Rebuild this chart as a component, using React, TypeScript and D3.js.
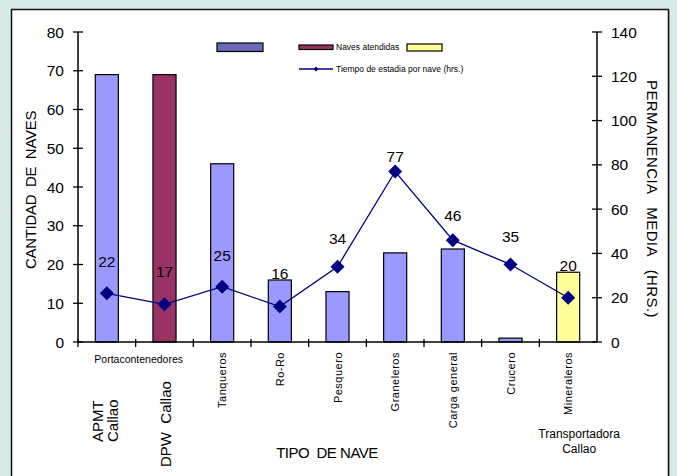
import * as React from 'react';
import { scaleBand, scaleLinear, line } from 'd3';

const categories = ['APMT Callao', 'DPW Callao', 'Tanqueros', 'Ro-Ro', 'Pesquero', 'Graneleros', 'Carga general', 'Crucero', 'Mineraleros'];
const navesAtendidas = [69, 69, 46, 16, 13, 23, 24, 1, 18];
const tiempoEstadia = [22, 17, 25, 16, 34, 77, 46, 35, 20];
const barSeries = [0, 1, 0, 0, 0, 0, 0, 0, 2];
const seriesColors = ['#9999ff', '#993366', '#ffff99'];
const legendColors = ['#6b6bbb', '#993366', '#ffff99'];
const leftTicks = [0, 10, 20, 30, 40, 50, 60, 70, 80];
const rightTicks = [0, 20, 40, 60, 80, 100, 120, 140];

const W = 677;
const H = 476;
const plot = { left: 78, right: 597, top: 32, bottom: 342 };
const font = '"Liberation Sans", Arial, sans-serif';

const x = scaleBand<string>()
    .domain(categories)
    .range([plot.left, plot.right])
    .paddingInner(0.6)
    .paddingOuter(0.3);
const step = x.step();

const yLeft = scaleLinear().domain([0, 80]).range([plot.bottom, plot.top]);
const yRight = scaleLinear().domain([0, 140]).range([plot.bottom, plot.top]);
// the value labels sit on their own (manually dragged) scale in the original
const yLabel = scaleLinear().domain([0, 140]).range([304, 35]);

const center = (c: string) => (x(c) as number) + x.bandwidth() / 2;

const linePath = line<number>()
    .x((_, i) => center(categories[i]))
    .y(d => yRight(d));

const Diamond = ({ cx, cy, r }: { cx: number; cy: number; r: number }) => (
    <path d={`M${cx},${cy - r}L${cx + r},${cy}L${cx},${cy + r}L${cx - r},${cy}Z`} fill="#000080" />
);

const pre = { whiteSpace: 'pre' as const };

export default function App() {
    const rotatedFrom = 2;
    const mineralCenter = center(categories[8]);
    return (
        <svg width={W} height={H} style={{ position: 'absolute', left: 0, top: 0 }} fontFamily={font}>
            <rect x={0} y={0} width={W} height={H} fill="#d9ece9" />
            <rect x={13} y={11} width={657} height={H} fill="#b8c4c2" />
            <rect x={11.5} y={9.5} width={657} height={H} fill="#ffffff" stroke="#111" strokeWidth={1.5} />

            {/* legend */}
            <rect x={217} y={43} width={46} height={8.5} fill={legendColors[0]} stroke="#000" strokeWidth={1.2} />
            <rect x={299} y={45} width={34} height={4.5} fill={legendColors[1]} stroke="#000" strokeWidth={1.2} />
            <text x={336} y={50} fontSize={8.5} fill="#000">Naves atendidas</text>
            <rect x={407} y={44} width={35} height={7} fill={legendColors[2]} stroke="#000" strokeWidth={1.2} />
            <line x1={299} x2={333} y1={69} y2={69} stroke="#000080" strokeWidth={1.3} />
            <Diamond cx={316} cy={69} r={2.5} />
            <text x={336} y={72} fontSize={8.5} fill="#000">Tiempo de estadia por nave (hrs.)</text>

            {/* bars */}
            {categories.map((c, i) => (
                <rect
                    key={c}
                    x={x(c)}
                    y={yLeft(navesAtendidas[i])}
                    width={x.bandwidth()}
                    height={yLeft(0) - yLeft(navesAtendidas[i])}
                    fill={seriesColors[barSeries[i]]}
                    stroke="#000"
                    strokeWidth={1.2}
                />
            ))}

            {/* axes */}
            <line x1={plot.left} x2={plot.left} y1={plot.top} y2={plot.bottom} stroke="#000" strokeWidth={1.5} />
            <line x1={plot.right} x2={plot.right} y1={plot.top} y2={plot.bottom} stroke="#000" strokeWidth={1.5} />
            <line x1={plot.left} x2={plot.right} y1={plot.bottom} y2={plot.bottom} stroke="#000" strokeWidth={1.5} />
            {leftTicks.map(t => (
                <g key={'l' + t}>
                    <line x1={plot.left - 5} x2={plot.left + 5} y1={yLeft(t)} y2={yLeft(t)} stroke="#000" strokeWidth={1.3} />
                    <text x={plot.left - 14} y={yLeft(t) + 5.5} fontSize={15.5} textAnchor="end" fill="#000">{t}</text>
                </g>
            ))}
            {rightTicks.map(t => (
                <g key={'r' + t}>
                    <line x1={plot.right - 5} x2={plot.right + 5} y1={yRight(t)} y2={yRight(t)} stroke="#000" strokeWidth={1.3} />
                    <text x={plot.right + 14} y={yRight(t) + 5.5} fontSize={15.5} textAnchor="start" fill="#000">{t}</text>
                </g>
            ))}
            {categories.map((c, i) => (
                <line key={'xt' + c} x1={plot.left + step * i} x2={plot.left + step * i} y1={plot.bottom - 3} y2={plot.bottom + 5} stroke="#000" strokeWidth={1.3} />
            ))}

            {/* line series */}
            <path d={linePath(tiempoEstadia) ?? ''} fill="none" stroke="#000080" strokeWidth={1.3} />
            {tiempoEstadia.map((v, i) => (
                <g key={'p' + i}>
                    <Diamond cx={center(categories[i])} cy={yRight(v)} r={7} />
                    <text x={center(categories[i])} y={yLabel(v) + 5.5} fontSize={15.5} textAnchor="middle" fill="#000">{v}</text>
                </g>
            ))}

            {/* category labels */}
            <text x={plot.left + step + 3} y={363} fontSize={10.5} textAnchor="middle" fill="#000">Portacontenedores</text>
            {categories.slice(rotatedFrom).map(c => (
                <text
                    key={'cl' + c}
                    transform={`translate(${center(c) + 4},352) rotate(-90)`}
                    fontSize={11}
                    letterSpacing={0.5}
                    textAnchor="end"
                    fill="#000"
                >{c}</text>
            ))}
            <text transform={`translate(${center(categories[0]) - 4},442) rotate(-90)`} fontSize={15} fill="#000">
                <tspan x={0} dy={0}>APMT</tspan>
                <tspan x={0} dy={15}>Callao</tspan>
            </text>
            <text transform={`translate(${center(categories[1]) + 6},467) rotate(-90)`} fontSize={15} fill="#000" style={pre}>DPW  Callao</text>
            <text x={mineralCenter + 11} y={438} fontSize={12} textAnchor="middle" fill="#000">
                <tspan x={mineralCenter + 11} dy={0}>Transportadora</tspan>
                <tspan x={mineralCenter + 11} dy={15}>Callao</tspan>
            </text>

            {/* axis titles */}
            <text x={327} y={458} fontSize={15} textAnchor="middle" letterSpacing={-0.5} fill="#000" style={pre}>TIPO  DE NAVE</text>
            <text transform={`translate(36,${(plot.top + plot.bottom) / 2 + 3}) rotate(-90)`} fontSize={15} textAnchor="middle" letterSpacing={-0.3} fill="#000" style={pre}>CANTIDAD  DE  NAVES</text>
            <text transform={`translate(647,199) rotate(90)`} fontSize={15} textAnchor="middle" letterSpacing={0.4} fill="#000" style={pre}>PERMANENCIA   MEDIA   (HRS.)</text>
        </svg>
    );
}
